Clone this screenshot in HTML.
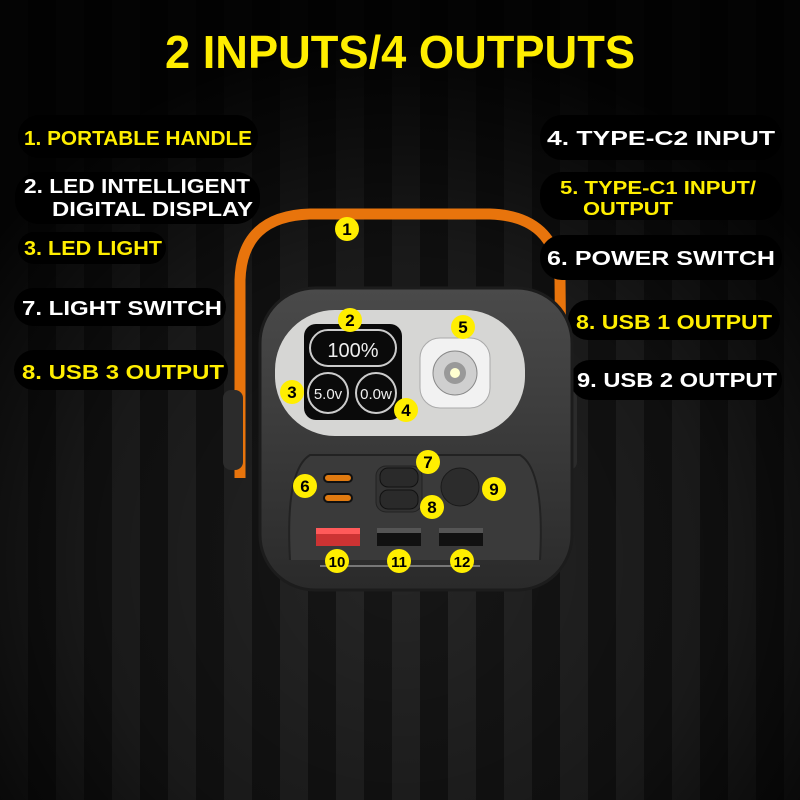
<!DOCTYPE html>
<html><head><meta charset="utf-8"><style>
html,body{margin:0;padding:0;background:#000;}
svg{display:block;font-family:"Liberation Sans",sans-serif;font-weight:bold;}
</style></head><body>
<svg width="800" height="800" viewBox="0 0 800 800" xmlns="http://www.w3.org/2000/svg">
<defs>
<pattern id="st" width="56" height="800" patternUnits="userSpaceOnUse">
<rect width="56" height="800" fill="#161616"/><rect x="0" width="28" height="800" fill="#262626"/>
</pattern>
<radialGradient id="glow" cx="0.5" cy="0.7" r="0.65">
<stop offset="0" stop-color="#000" stop-opacity="0"/>
<stop offset="0.6" stop-color="#000" stop-opacity="0.35"/>
<stop offset="1" stop-color="#000" stop-opacity="0.9"/>
</radialGradient>
<linearGradient id="body" x1="0" y1="0" x2="0" y2="1">
<stop offset="0" stop-color="#4a4a4a"/><stop offset="1" stop-color="#2a2a2a"/>
</linearGradient>
</defs>
<rect width="800" height="800" fill="url(#st)"/>
<rect width="800" height="800" fill="url(#glow)"/>
<text x="400" y="68" text-anchor="middle" font-size="46" fill="#ffee00" textLength="470" lengthAdjust="spacingAndGlyphs">2 INPUTS/4 OUTPUTS</text>

<!-- handle -->
<path d="M240 478 L240 280 Q242 216 310 214 L490 214 Q556 216 560 280 L562 480" fill="none" stroke="#e8740c" stroke-width="11"/>
<rect x="223" y="390" width="20" height="80" rx="8" fill="#2b2b2b"/>
<rect x="557" y="390" width="20" height="80" rx="8" fill="#2b2b2b"/>

<!-- labels -->
<g font-size="20">
<rect x="18" y="115" width="240" height="43" rx="21" fill="#000"/>
<text x="24" y="145" fill="#ffee00" textLength="228" lengthAdjust="spacingAndGlyphs">1. PORTABLE HANDLE</text>
<rect x="15" y="172" width="245" height="52" rx="24" fill="#000"/>
<text x="24" y="193" fill="#fff" textLength="226" lengthAdjust="spacingAndGlyphs">2. LED INTELLIGENT</text>
<text x="52" y="216" fill="#fff" textLength="201" lengthAdjust="spacingAndGlyphs">DIGITAL DISPLAY</text>
<rect x="18" y="232" width="148" height="32" rx="16" fill="#000"/>
<text x="24" y="255" fill="#ffee00" textLength="138" lengthAdjust="spacingAndGlyphs">3. LED LIGHT</text>
<rect x="14" y="288" width="212" height="38" rx="19" fill="#000"/>
<text x="22" y="315" fill="#fff" textLength="200" lengthAdjust="spacingAndGlyphs">7. LIGHT SWITCH</text>
<rect x="14" y="350" width="214" height="40" rx="20" fill="#000"/>
<text x="22" y="379" fill="#ffee00" textLength="202" lengthAdjust="spacingAndGlyphs">8. USB 3 OUTPUT</text>

<rect x="540" y="115" width="242" height="45" rx="22" fill="#000"/>
<text x="547" y="145" fill="#fff" textLength="228" lengthAdjust="spacingAndGlyphs">4. TYPE-C2 INPUT</text>
<rect x="540" y="172" width="242" height="48" rx="22" fill="#000"/>
<text x="560" y="194" fill="#ffee00" font-size="18" textLength="196" lengthAdjust="spacingAndGlyphs">5. TYPE-C1 INPUT/</text>
<text x="583" y="215" fill="#ffee00" font-size="18" textLength="90" lengthAdjust="spacingAndGlyphs">OUTPUT</text>
<rect x="540" y="235" width="242" height="45" rx="22" fill="#000"/>
<text x="547" y="265" fill="#fff" textLength="228" lengthAdjust="spacingAndGlyphs">6. POWER SWITCH</text>
<rect x="568" y="300" width="212" height="40" rx="20" fill="#000"/>
<text x="576" y="329" fill="#ffee00" textLength="196" lengthAdjust="spacingAndGlyphs">8. USB 1 OUTPUT</text>
<rect x="570" y="360" width="212" height="40" rx="20" fill="#000"/>
<text x="577" y="387" fill="#fff" textLength="200" lengthAdjust="spacingAndGlyphs">9. USB 2 OUTPUT</text>
</g>

<!-- body -->
<rect x="260" y="288" width="312" height="302" rx="55" fill="url(#body)" stroke="#1c1c1c" stroke-width="3"/>
<rect x="275" y="310" width="250" height="126" rx="60" fill="#d6d6d4"/>
<rect x="304" y="324" width="98" height="96" rx="12" fill="#0a0a0a"/>
<rect x="310" y="330" width="86" height="36" rx="18" fill="none" stroke="#ccc" stroke-width="2"/>
<text x="353" y="357" text-anchor="middle" font-size="20" font-weight="normal" fill="#eee">100%</text>
<circle cx="328" cy="393" r="20" fill="none" stroke="#ccc" stroke-width="2"/>
<circle cx="376" cy="393" r="20" fill="none" stroke="#ccc" stroke-width="2"/>
<text x="328" y="399" text-anchor="middle" font-size="15" font-weight="normal" fill="#eee">5.0v</text>
<text x="376" y="399" text-anchor="middle" font-size="15" font-weight="normal" fill="#eee">0.0w</text>
<rect x="420" y="338" width="70" height="70" rx="20" fill="#f2f2f2" stroke="#aaa"/>
<circle cx="455" cy="373" r="22" fill="#cfcfcf" stroke="#888"/>
<circle cx="455" cy="373" r="11" fill="#999"/>
<circle cx="455" cy="373" r="5" fill="#ffffd0"/>
<!-- lower panel -->
<path d="M290 560 Q285 470 310 455 L520 455 Q545 470 540 560" fill="#3a3a3a" stroke="#222" stroke-width="2"/>
<rect x="324" y="474" width="28" height="8" rx="4" fill="#e07a10" stroke="#111" stroke-width="2"/>
<rect x="324" y="494" width="28" height="8" rx="4" fill="#e07a10" stroke="#111" stroke-width="2"/>
<rect x="376" y="466" width="46" height="46" rx="10" fill="#333" stroke="#222"/>
<rect x="380" y="468" width="38" height="19" rx="8" fill="#2a2a2a" stroke="#111"/>
<rect x="380" y="490" width="38" height="19" rx="8" fill="#2a2a2a" stroke="#111"/>
<circle cx="460" cy="487" r="19" fill="#2c2c2c" stroke="#1a1a1a"/>
<rect x="316" y="528" width="44" height="18" fill="#c33"/>
<rect x="316" y="528" width="44" height="6" fill="#ff5a5a"/>
<rect x="377" y="528" width="44" height="18" fill="#111"/><rect x="377" y="528" width="44" height="5" fill="#555"/>
<rect x="439" y="528" width="44" height="18" fill="#111"/><rect x="439" y="528" width="44" height="5" fill="#555"/>
<line x1="320" y1="566" x2="480" y2="566" stroke="#777" stroke-width="2"/>

<!-- markers -->
<g font-size="17" text-anchor="middle" fill="#000">
<g><circle cx="347" cy="229" r="12" fill="#ffee00"/><text x="347" y="235">1</text></g>
<g><circle cx="350" cy="320" r="12" fill="#ffee00"/><text x="350" y="326">2</text></g>
<g><circle cx="292" cy="392" r="12" fill="#ffee00"/><text x="292" y="398">3</text></g>
<g><circle cx="406" cy="410" r="12" fill="#ffee00"/><text x="406" y="416">4</text></g>
<g><circle cx="463" cy="327" r="12" fill="#ffee00"/><text x="463" y="333">5</text></g>
<g><circle cx="305" cy="486" r="12" fill="#ffee00"/><text x="305" y="492">6</text></g>
<g><circle cx="428" cy="462" r="12" fill="#ffee00"/><text x="428" y="468">7</text></g>
<g><circle cx="432" cy="507" r="12" fill="#ffee00"/><text x="432" y="513">8</text></g>
<g><circle cx="494" cy="489" r="12" fill="#ffee00"/><text x="494" y="495">9</text></g>
<g><circle cx="337" cy="561" r="12" fill="#ffee00"/><text x="337" y="567" font-size="15">10</text></g>
<g><circle cx="399" cy="561" r="12" fill="#ffee00"/><text x="399" y="567" font-size="15">11</text></g>
<g><circle cx="462" cy="561" r="12" fill="#ffee00"/><text x="462" y="567" font-size="15">12</text></g>
</g>
</svg>
</body></html>
